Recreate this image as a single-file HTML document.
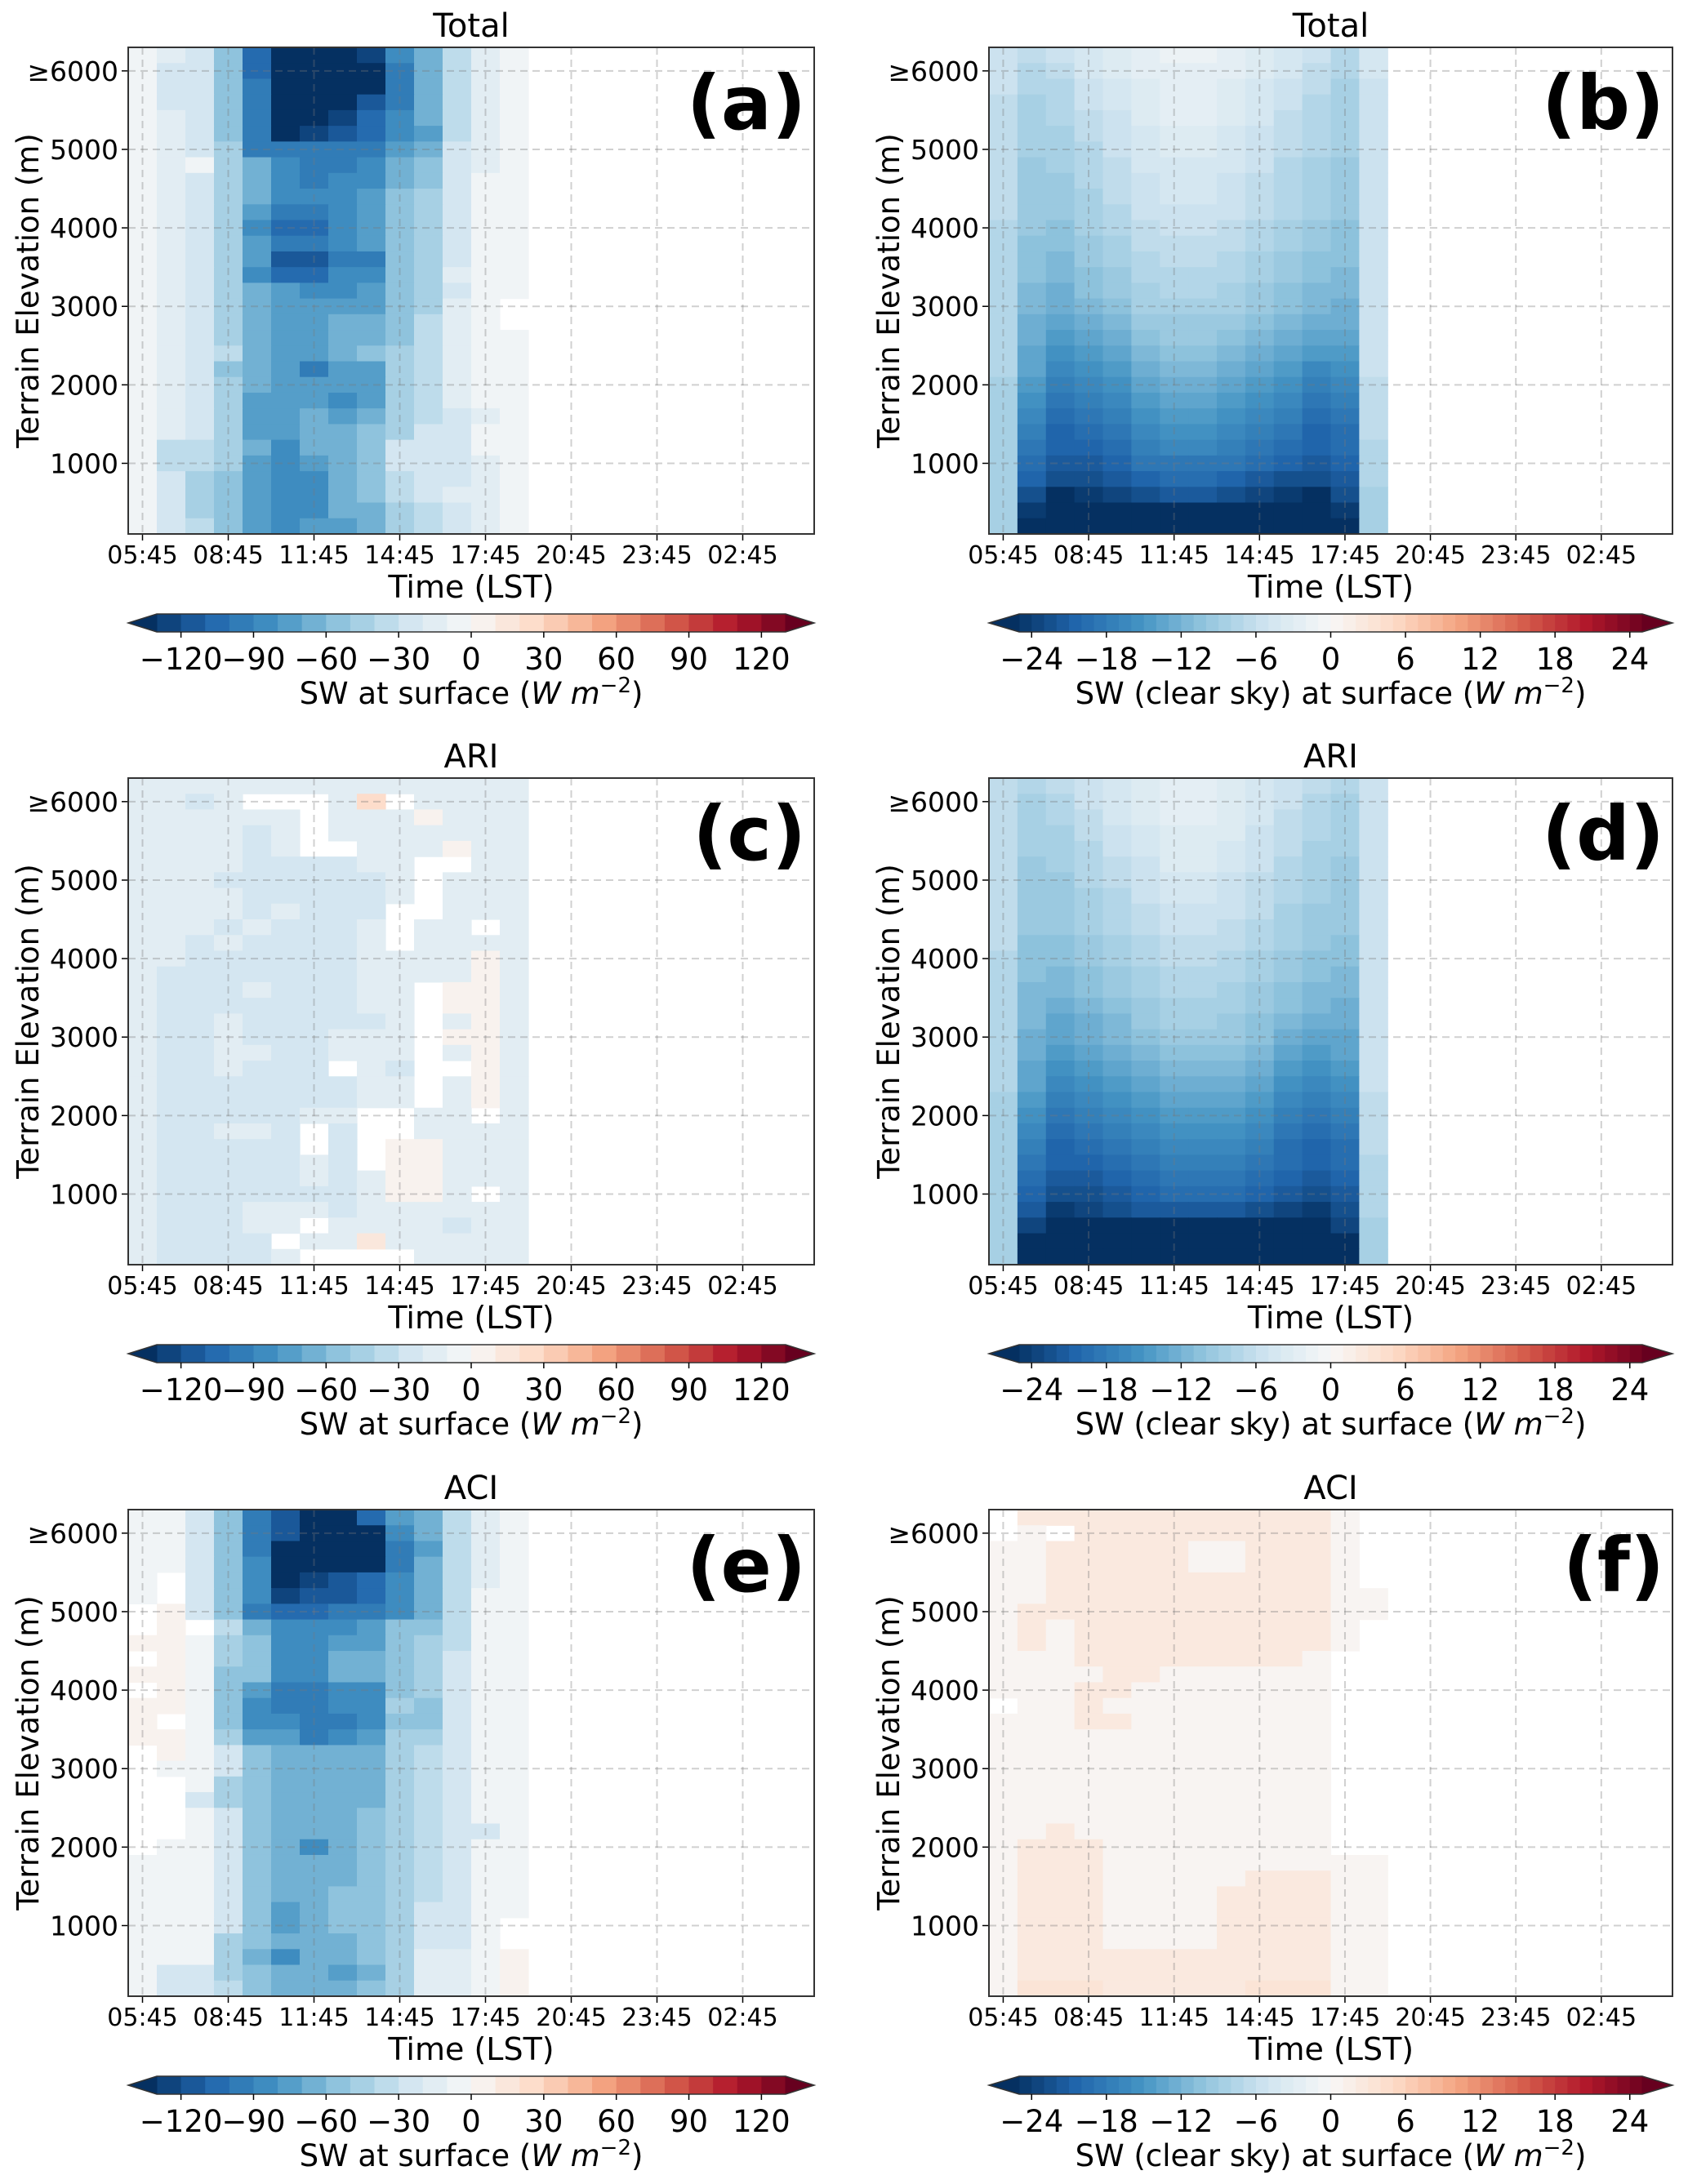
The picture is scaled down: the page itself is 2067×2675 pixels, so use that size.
<!DOCTYPE html>
<html><head><meta charset="utf-8"><style>
html,body{margin:0;padding:0;background:#fff;}
svg{display:block;}
text{font-family:"DejaVu Sans","Liberation Sans",sans-serif;fill:#000;}
</style></head><body>
<svg id="fig" xmlns="http://www.w3.org/2000/svg" width="2067" height="2675" viewBox="0 0 2067 2675"></svg>
<script>
// ---- data ----
const timeTickLabels = ["05:45","08:45","11:45","14:45","17:45","20:45","23:45","02:45"];
const elevTickValues = [1000,2000,3000,4000,5000,6000];
const elevTickLabels = ["1000","2000","3000","4000","5000","\u22656000"];
const swTicks = [-120,-90,-60,-30,0,30,60,90,120];
const csTicks = [-24,-18,-12,-6,0,6,12,18,24];
const N_HOURS = 24;
const ELEV_MIN = 100, ELEV_MAX = 6300, ELEV_STEP = 200;
// rows listed top (6100-6300 m) to bottom (100-300 m); 14 hourly columns from 05:45 to 18:45; null = no data
const valsA = [
[-8,-20,-30,-60,-110,-135,-135,-135,-125,-85,-65,-35,-12,-6],
[-8,-25,-30,-60,-105,-135,-135,-135,-135,-95,-70,-35,-12,-6],
[-8,-25,-30,-60,-100,-135,-135,-135,-135,-100,-70,-40,-12,-6],
[-8,-25,-30,-60,-100,-135,-135,-135,-120,-95,-70,-35,-12,-6],
[-8,-12,-30,-60,-100,-135,-135,-125,-110,-85,-70,-35,-12,-6],
[-8,-12,-30,-60,-100,-135,-130,-120,-110,-85,-75,-35,-12,-6],
[-8,-12,-25,-50,-95,-100,-100,-100,-95,-75,-70,-30,-12,-6],
[-8,-12,-10,-45,-70,-85,-100,-100,-90,-65,-55,-30,-12,-6],
[-8,-12,-25,-45,-70,-85,-100,-85,-85,-65,-55,-30,-8,-6],
[-8,-12,-25,-45,-70,-85,-85,-85,-75,-60,-50,-25,-8,-6],
[-8,-12,-25,-45,-80,-95,-95,-85,-75,-60,-50,-25,-8,-6],
[-8,-12,-25,-45,-90,-110,-110,-85,-75,-60,-50,-25,-8,-6],
[-8,-12,-25,-45,-80,-100,-100,-85,-75,-60,-50,-25,-8,-6],
[-8,-12,-25,-45,-80,-115,-115,-100,-100,-60,-50,-25,-8,-6],
[-8,-12,-25,-45,-85,-105,-105,-90,-90,-60,-50,-20,-8,-6],
[-8,-12,-25,-45,-70,-75,-85,-85,-80,-60,-45,-22,-8,-6],
[-8,-12,-25,-45,-70,-80,-80,-80,-80,-55,-45,-20,-8,null],
[-8,-20,-25,-45,-70,-80,-80,-65,-65,-55,-40,-20,-8,null],
[-8,-20,-30,-45,-70,-80,-80,-65,-65,-55,-40,-20,-8,-6],
[-8,-20,-30,-40,-70,-80,-80,-70,-60,-50,-40,-20,-8,-6],
[-8,-20,-30,-55,-70,-80,-95,-80,-75,-50,-40,-20,-8,-6],
[-8,-20,-30,-45,-70,-80,-80,-80,-75,-50,-35,-20,-8,-6],
[-8,-20,-30,-45,-75,-80,-80,-85,-75,-45,-35,-20,-8,-6],
[-8,-20,-30,-45,-75,-80,-65,-80,-65,-50,-35,-25,-15,-6],
[-8,-20,-30,-45,-75,-80,-65,-65,-55,-45,-30,-25,-8,-6],
[-8,-35,-40,-50,-65,-85,-70,-65,-60,-30,-30,-25,-8,-6],
[-8,-35,-40,-50,-75,-85,-75,-65,-55,-30,-30,-25,-15,-6],
[-8,-30,-50,-55,-75,-85,-85,-70,-60,-40,-30,-22,-15,-6],
[-8,-30,-50,-60,-75,-85,-85,-70,-60,-40,-30,-20,-15,-6],
[-8,-30,-50,-60,-75,-85,-85,-70,-65,-45,-35,-25,-15,-6],
[-8,-30,-35,-60,-75,-85,-75,-75,-65,-45,-35,-22,-15,-6]];
const valsB = [
[-6,-7,-6,-5,-4,-3,-2,-2,-3,-4,-5,-6,-8,-5],
[-6,-8,-7,-5,-4,-3,-3,-3,-3,-4,-5,-7,-8,-5],
[-6,-8,-8,-6,-5,-4,-3,-3,-4,-5,-6,-7,-9,-6],
[-7,-9,-8,-6,-5,-4,-3,-3,-4,-5,-6,-8,-9,-6],
[-7,-9,-8,-7,-6,-4,-3,-3,-4,-5,-7,-8,-9,-6],
[-7,-9,-9,-7,-6,-5,-4,-4,-5,-6,-7,-8,-9,-6],
[-7,-9,-9,-8,-6,-5,-4,-4,-5,-6,-7,-8,-9,-6],
[-7,-10,-9,-8,-7,-5,-5,-5,-5,-6,-8,-9,-10,-6],
[-7,-10,-10,-8,-7,-6,-5,-5,-6,-7,-8,-9,-10,-6],
[-7,-10,-10,-9,-7,-6,-5,-5,-6,-7,-8,-9,-10,-6],
[-7,-10,-10,-9,-8,-6,-6,-6,-6,-7,-8,-9,-10,-6],
[-8,-10,-11,-9,-8,-7,-6,-6,-7,-8,-9,-10,-11,-6],
[-8,-11,-11,-10,-9,-7,-7,-7,-7,-8,-9,-10,-11,-6],
[-8,-11,-12,-10,-9,-8,-7,-7,-8,-9,-10,-11,-11,-6],
[-8,-11,-12,-11,-10,-8,-8,-8,-8,-9,-10,-11,-12,-6],
[-8,-12,-13,-11,-10,-9,-8,-8,-9,-10,-11,-12,-12,-6],
[-8,-12,-13,-12,-11,-9,-9,-9,-9,-10,-11,-12,-13,-6],
[-8,-13,-14,-13,-12,-10,-10,-10,-10,-11,-12,-13,-13,-6],
[-8,-13,-15,-14,-13,-11,-10,-10,-11,-12,-13,-14,-14,-6],
[-8,-14,-16,-15,-14,-12,-11,-11,-12,-13,-14,-15,-15,-6],
[-8,-14,-17,-16,-15,-13,-12,-12,-13,-14,-15,-17,-16,-6],
[-9,-15,-18,-17,-16,-14,-13,-13,-14,-15,-16,-18,-17,-7],
[-9,-16,-19,-18,-17,-15,-14,-14,-15,-16,-17,-19,-18,-7],
[-9,-17,-20,-19,-18,-16,-15,-15,-16,-17,-18,-20,-19,-7],
[-9,-18,-21,-20,-19,-17,-16,-16,-17,-18,-19,-21,-20,-7],
[-9,-19,-21,-21,-20,-18,-17,-17,-18,-19,-20,-21,-20,-8],
[-9,-20,-22,-22,-21,-19,-19,-19,-19,-20,-21,-22,-21,-8],
[-9,-21,-23,-23,-22,-21,-20,-20,-21,-22,-23,-23,-22,-8],
[-9,-23,-26,-25,-24,-23,-22,-22,-23,-24,-25,-26,-23,-9],
[-9,-25,-28,-28,-28,-28,-28,-28,-28,-28,-28,-28,-25,-9],
[-9,-28,-28,-28,-28,-28,-28,-28,-28,-28,-28,-28,-28,-9]];
const valsC = [
[-12,-12,-12,-12,-12,-12,-12,-12,-12,-12,-12,-12,-12,-12],
[-12,-12,-25,-12,null,null,null,-12,20,null,-12,-12,-12,-12],
[-12,-12,-12,-12,-12,-12,null,-12,-12,-12,5,-12,-12,-12],
[-12,-12,-12,-12,-25,-12,null,-12,-12,-12,-12,-12,-12,-12],
[-12,-12,-12,-12,-25,-12,null,null,-12,-12,-12,5,-12,-12],
[-12,-12,-12,-12,-25,-25,-25,-25,-12,-12,null,null,-12,-12],
[-12,-12,-12,-25,-25,-25,-25,-25,-25,-12,null,-12,-12,-12],
[-12,-12,-12,-12,-25,-25,-25,-25,-25,-12,null,-12,-12,-12],
[-12,-12,-12,-12,-25,-12,-25,-25,-25,null,null,-12,-12,-12],
[-12,-12,-12,-25,-12,-25,-25,-25,-12,null,-12,-12,null,-12],
[-12,-12,-25,-12,-25,-25,-25,-25,-12,null,-12,-12,-12,-12],
[-12,-12,-25,-25,-25,-25,-25,-25,-12,-12,-12,-12,5,-12],
[-12,-25,-25,-25,-25,-25,-25,-25,-12,-12,-12,-12,5,-12],
[-12,-25,-25,-25,-12,-25,-25,-25,-12,-12,null,5,5,-12],
[-12,-25,-25,-25,-25,-25,-25,-25,-12,-12,null,5,5,-12],
[-12,-25,-25,-12,-25,-25,-25,-25,-25,-12,null,-12,5,-12],
[-12,-25,-25,-12,-25,-25,-25,-12,-12,-12,null,5,5,-12],
[-12,-25,-25,-12,-12,-25,-25,-12,-12,-12,null,-12,5,-12],
[-12,-25,-25,-12,-25,-25,-25,null,-12,-25,null,null,5,-12],
[-12,-25,-25,-25,-25,-25,-25,-25,-12,-12,null,-12,5,-12],
[-12,-25,-25,-25,-25,-25,-25,-25,-12,-12,null,-12,5,-12],
[-12,-25,-25,-25,-25,-25,-12,-12,null,null,-12,-12,null,-12],
[-12,-25,-25,-12,-12,-25,null,-25,null,null,-12,-12,-12,-12],
[-12,-25,-25,-25,-25,-25,null,-25,null,5,5,-12,-12,-12],
[-12,-25,-25,-25,-25,-25,-12,-25,null,5,5,-12,-12,-12],
[-12,-25,-25,-25,-25,-25,-12,-25,-12,5,5,-12,-12,-12],
[-12,-25,-25,-25,-25,-25,-25,-25,-12,5,5,-12,null,-12],
[-12,-25,-25,-25,-12,-12,-12,-25,-12,-12,-12,-12,-12,-12],
[-12,-25,-25,-25,-12,-12,null,-12,-12,-12,-12,-25,-12,-12],
[-12,-25,-25,-25,-25,null,-12,-12,15,-12,-12,-12,-12,-12],
[-12,-25,-25,-25,-25,-12,null,null,null,null,-12,-12,-12,-12]];
const valsD = [
[-7,-8,-7,-6,-5,-4,-3,-3,-4,-5,-6,-7,-8,-6],
[-7,-9,-8,-6,-5,-4,-3,-3,-4,-5,-6,-8,-9,-6],
[-7,-9,-8,-7,-5,-4,-3,-3,-4,-5,-7,-8,-9,-6],
[-7,-9,-9,-7,-6,-5,-4,-4,-4,-6,-7,-8,-9,-6],
[-7,-9,-9,-8,-6,-5,-4,-4,-5,-6,-7,-9,-9,-6],
[-7,-10,-9,-8,-7,-6,-4,-4,-5,-6,-8,-9,-10,-6],
[-7,-10,-10,-8,-7,-6,-5,-5,-6,-7,-8,-9,-10,-6],
[-7,-10,-10,-9,-8,-6,-5,-5,-6,-7,-8,-9,-10,-6],
[-7,-10,-10,-9,-8,-7,-6,-6,-6,-7,-9,-10,-10,-6],
[-7,-10,-10,-9,-8,-7,-6,-6,-7,-8,-9,-10,-10,-6],
[-7,-11,-11,-10,-9,-8,-7,-7,-7,-8,-9,-10,-11,-6],
[-8,-11,-11,-10,-9,-8,-7,-7,-8,-9,-10,-11,-11,-6],
[-8,-11,-12,-11,-10,-9,-8,-8,-8,-9,-10,-11,-12,-6],
[-8,-12,-12,-11,-10,-9,-8,-8,-9,-10,-11,-12,-12,-6],
[-8,-12,-13,-12,-11,-10,-9,-9,-9,-10,-11,-12,-13,-6],
[-8,-12,-14,-13,-12,-10,-9,-9,-10,-11,-12,-13,-13,-6],
[-8,-13,-14,-13,-12,-11,-10,-10,-10,-11,-13,-14,-14,-6],
[-8,-13,-15,-14,-13,-12,-11,-11,-11,-12,-14,-15,-14,-6],
[-8,-14,-16,-15,-14,-13,-12,-12,-12,-13,-15,-16,-15,-6],
[-8,-14,-17,-16,-15,-14,-13,-13,-13,-14,-16,-17,-16,-6],
[-9,-15,-18,-17,-16,-15,-14,-14,-14,-15,-17,-18,-17,-7],
[-9,-16,-19,-18,-17,-16,-15,-15,-15,-16,-18,-19,-18,-7],
[-9,-17,-20,-19,-18,-17,-16,-16,-16,-17,-19,-20,-19,-7],
[-9,-18,-21,-20,-19,-18,-17,-17,-17,-18,-20,-21,-20,-7],
[-9,-19,-21,-21,-20,-19,-18,-18,-18,-19,-20,-21,-20,-8],
[-9,-20,-22,-22,-21,-20,-19,-19,-19,-20,-21,-22,-21,-8],
[-9,-21,-23,-23,-22,-21,-20,-20,-20,-21,-22,-23,-22,-8],
[-9,-22,-25,-24,-23,-22,-22,-22,-22,-23,-24,-25,-23,-8],
[-9,-24,-27,-27,-26,-26,-26,-26,-26,-26,-26,-27,-24,-9],
[-9,-28,-28,-28,-28,-28,-28,-28,-28,-28,-28,-28,-28,-9],
[-9,-28,-28,-28,-28,-28,-28,-28,-28,-28,-28,-28,-28,-9]];
const valsE = [
[-8,-8,-25,-55,-95,-115,-135,-135,-105,-75,-65,-40,-12,-6],
[-8,-8,-25,-55,-100,-115,-135,-135,-135,-90,-65,-40,-12,-6],
[-8,-8,-25,-55,-100,-135,-135,-135,-135,-100,-75,-40,-12,-6],
[-8,-8,-25,-55,-85,-135,-135,-135,-135,-95,-70,-40,-12,-6],
[-8,null,-25,-55,-85,-135,-125,-115,-110,-85,-70,-40,-12,-6],
[-8,null,-25,-55,-85,-130,-115,-115,-105,-85,-70,-40,-8,-6],
[null,5,-25,-55,-95,-105,-105,-100,-100,-85,-65,-40,-8,-6],
[null,5,null,-40,-70,-85,-90,-90,-75,-60,-60,-40,-8,-6],
[5,5,-8,-45,-55,-85,-85,-80,-80,-60,-50,-40,-8,-6],
[null,5,-8,-45,-55,-85,-85,-70,-70,-60,-50,-30,-8,-6],
[5,5,-8,-55,-55,-85,-85,-70,-70,-55,-45,-30,-8,-6],
[null,5,-8,-55,-75,-95,-95,-90,-90,-55,-45,-30,-8,-6],
[5,5,-8,-55,-85,-95,-100,-90,-85,-50,-55,-30,-8,-6],
[5,null,-8,-55,-85,-90,-100,-95,-85,-55,-55,-30,-8,-6],
[5,5,-8,-45,-75,-75,-100,-85,-75,-50,-45,-30,-8,-6],
[null,5,-8,-30,-60,-70,-70,-70,-65,-50,-35,-30,-8,-6],
[null,-8,-8,-30,-60,-70,-70,-70,-65,-50,-35,-30,-8,-6],
[null,null,-8,-45,-60,-70,-70,-70,-65,-50,-35,-30,-8,-6],
[null,null,-25,-45,-60,-70,-70,-70,-65,-50,-35,-30,-8,-6],
[null,null,-8,-30,-60,-70,-70,-70,-55,-50,-40,-30,-8,-6],
[null,null,-8,-30,-60,-70,-70,-70,-55,-50,-40,-30,-25,-6],
[null,-8,-8,-30,-60,-70,-85,-70,-55,-50,-40,-30,-8,-6],
[-8,-8,-8,-30,-60,-70,-70,-70,-55,-50,-40,-25,-8,-6],
[-8,-8,-8,-30,-60,-70,-65,-70,-55,-50,-40,-25,-8,-6],
[-8,-8,-8,-30,-60,-65,-65,-60,-55,-50,-40,-30,-8,-6],
[-8,-8,-8,-30,-60,-75,-65,-55,-55,-45,-25,-25,-8,-6],
[-8,-8,-8,-30,-60,-75,-65,-55,-55,-45,-25,-25,-8,null],
[-8,-8,-8,-45,-60,-70,-70,-65,-60,-45,-25,-25,-8,null],
[-8,-8,-8,-45,-65,-85,-70,-65,-60,-45,-15,-15,-8,5],
[-8,-25,-25,-45,-60,-70,-70,-75,-65,-45,-15,-15,-8,5],
[-8,-25,-25,-40,-55,-70,-70,-70,-60,-45,-15,-15,-8,5]];
const valsF = [
[null,2,2,2,2,2,2,2,2,2,2,2,0.5,null],
[null,0.5,null,2,2,2,2,2,2,2,2,2,0.5,null],
[0.5,0.5,2,2,2,2,2,0.5,0.5,2,2,2,0.5,null],
[0.5,0.5,2,2,2,2,2,0.5,0.5,2,2,2,0.5,null],
[0.5,0.5,2,2,2,2,2,2,2,2,2,2,0.5,null],
[0.5,0.5,2,2,2,2,2,2,2,2,2,2,0.5,0.5],
[0.5,2,2,2,2,2,2,2,2,2,2,2,0.5,0.5],
[0.5,2,0.5,2,2,2,2,2,2,2,2,2,0.5,null],
[0.5,2,0.5,2,2,2,2,2,2,2,2,2,0.5,null],
[0.5,0.5,0.5,2,2,2,2,2,2,2,2,0.5,null,null],
[0.5,0.5,0.5,0.5,2,2,0.5,0.5,0.5,0.5,0.5,0.5,null,null],
[0.5,0.5,0.5,2,2,0.5,0.5,0.5,0.5,0.5,0.5,0.5,null,null],
[null,0.5,0.5,2,0.5,0.5,0.5,0.5,0.5,0.5,0.5,0.5,null,null],
[0.5,0.5,0.5,2,2,0.5,0.5,0.5,0.5,0.5,0.5,0.5,null,null],
[0.5,0.5,0.5,0.5,0.5,0.5,0.5,0.5,0.5,0.5,0.5,0.5,null,null],
[0.5,0.5,0.5,0.5,0.5,0.5,0.5,0.5,0.5,0.5,0.5,0.5,null,null],
[0.5,0.5,0.5,0.5,0.5,0.5,0.5,0.5,0.5,0.5,0.5,0.5,null,null],
[0.5,0.5,0.5,0.5,0.5,0.5,0.5,0.5,0.5,0.5,0.5,0.5,null,null],
[0.5,0.5,0.5,0.5,0.5,0.5,0.5,0.5,0.5,0.5,0.5,0.5,null,null],
[0.5,0.5,0.5,0.5,0.5,0.5,0.5,0.5,0.5,0.5,0.5,0.5,null,null],
[0.5,0.5,2,0.5,0.5,0.5,0.5,0.5,0.5,0.5,0.5,0.5,null,null],
[0.5,2,2,2,0.5,0.5,0.5,0.5,0.5,0.5,0.5,0.5,null,null],
[0.5,2,2,2,0.5,0.5,0.5,0.5,0.5,0.5,0.5,0.5,0.5,0.5],
[0.5,2,2,2,0.5,0.5,0.5,0.5,0.5,2,2,2,0.5,0.5],
[0.5,2,2,2,0.5,0.5,0.5,0.5,2,2,2,2,0.5,0.5],
[0.5,2,2,2,0.5,0.5,0.5,0.5,2,2,2,2,0.5,0.5],
[0.5,2,2,2,0.5,0.5,0.5,0.5,2,2,2,2,0.5,0.5],
[0.5,2,2,2,0.5,0.5,0.5,0.5,2,2,2,2,0.5,0.5],
[0.5,2,2,2,2,2,2,2,2,2,2,2,0.5,0.5],
[0.5,2,2,2,2,2,2,2,2,2,2,2,0.5,0.5],
[0.5,3,3,3,2,2,2,2,2,3,3,3,0.5,0.5]];

// ---- drawing ----
const NS = "http://www.w3.org/2000/svg";
const svg = document.getElementById('fig');
const stops = ["#053061","#2166ac","#4393c3","#92c5de","#d1e5f0","#f7f7f7","#fddbc7","#f4a582","#d6604d","#b2182b","#67001f"];
function hex(h){return [1,3,5].map(i=>parseInt(h.substr(i,2),16));}
function cmap(t){
  t=Math.max(0,Math.min(1,t)); const p=t*10; const i=Math.min(9,Math.floor(p)); const f=p-i;
  const a=hex(stops[i]), b=hex(stops[i+1]);
  return 'rgb('+a.map((v,k)=>Math.round(v+(b[k]-v)*f)).join(',')+')';
}
function mk(tag, attrs, parent){
  const e=document.createElementNS(NS,tag);
  for(const k in attrs) e.setAttribute(k,attrs[k]);
  (parent||svg).appendChild(e); return e;
}
const scales = {
  sw:{lo:-130,hi:130,step:10,ticks:swTicks,label:"SW at surface ",tri:35},
  cs:{lo:-25,hi:25,step:1,ticks:csTicks,label:"SW (clear sky) at surface ",tri:37}
};
function colorIdx(v,s){
  const n=Math.round((s.hi-s.lo)/s.step);
  let idx; if(v<s.lo) idx=0; else if(v>=s.hi) idx=n+1; else idx=1+Math.floor((v-s.lo)/s.step);
  return cmap(idx/(n+1));
}
const panels = [
  {id:'a',title:'Total',vals:valsA,L:157,W:840,T:58,sc:'sw'},
  {id:'b',title:'Total',vals:valsB,L:1211,W:837,T:58,sc:'cs'},
  {id:'c',title:'ARI',vals:valsC,L:157,W:840,T:953,sc:'sw'},
  {id:'d',title:'ARI',vals:valsD,L:1211,W:837,T:953,sc:'cs'},
  {id:'e',title:'ACI',vals:valsE,L:157,W:840,T:1849,sc:'sw'},
  {id:'f',title:'ACI',vals:valsF,L:1211,W:837,T:1849,sc:'cs'}
];
const H = 596;
panels.forEach(p=>{
  const s=scales[p.sc];
  const g=mk('g',{});
  
  
  const xS = h => p.L + h*p.W/N_HOURS;
  const yS = e => p.T + H - (e-ELEV_MIN)/(ELEV_MAX-ELEV_MIN)*H;
  p.vals.forEach((row,r)=>{
    const eTop = ELEV_MAX - r*ELEV_STEP;
    row.forEach((v,c)=>{
      if(v===null) return;
      const x0=xS(c), x1=xS(c+1), y0=yS(eTop), y1=yS(eTop-ELEV_STEP);
      const rc=mk('rect',{x:x0,y:y0,width:x1-x0+0.6,height:y1-y0+0.6,fill:colorIdx(v,s)},g);
      
      
    });
  });
  timeTickLabels.forEach((lab,i)=>{
    const x=xS(3*i+0.5);
    const ln=mk('line',{x1:x,x2:x,y1:p.T,y2:p.T+H,stroke:'rgba(120,120,120,0.35)','stroke-width':2,'stroke-dasharray':'9,6'},g);
    
    
    mk('line',{x1:x,x2:x,y1:p.T+H,y2:p.T+H+8,stroke:'#000','stroke-width':1.5},g);
    const t=mk('text',{x:x,y:p.T+H+36,'font-size':30,'text-anchor':'middle'},g);
    t.textContent=lab;
    
    
  });
  elevTickValues.forEach((e,i)=>{
    const y=yS(e);
    const ln=mk('line',{x1:p.L,x2:p.L+p.W,y1:y,y2:y,stroke:'rgba(120,120,120,0.35)','stroke-width':2,'stroke-dasharray':'9,6'},g);
    
    
    mk('line',{x1:p.L-8,x2:p.L,y1:y,y2:y,stroke:'#000','stroke-width':1.5},g);
    const t=mk('text',{x:p.L-12,y:y+12,'font-size':33,'text-anchor':'end'},g);
    t.textContent=elevTickLabels[i];
    
    
  });
  const fr=mk('rect',{x:p.L,y:p.T,width:p.W,height:H,fill:'none',stroke:'#333','stroke-width':2},g);
  
  
  const ti=mk('text',{x:p.L+p.W/2,y:p.T-13,'font-size':40,'text-anchor':'middle'},g);
  ti.textContent=p.title;
  
  
  const pl=mk('text',{x:p.L+p.W-10,y:p.T+100,'font-size':92,'font-weight':'bold','text-anchor':'end','font-family':'Liberation Sans Narrow, Liberation Sans, sans-serif'},g);
  pl.textContent='('+p.id+')';
  
  
  const xl=mk('text',{x:p.L+p.W/2,y:p.T+H+78,'font-size':38,'text-anchor':'middle'},g);
  xl.textContent='Time (LST)';
  
  
  const yl=mk('text',{x:0,y:0,'font-size':37,'text-anchor':'middle',transform:'translate('+(p.L-110)+','+(p.T+H/2)+') rotate(-90)'},g);
  yl.textContent='Terrain Elevation (m)';
  
  
  const cbY=p.T+H+98, cbH=22;
  const bx0=p.L+s.tri, bx1=p.L+p.W-s.tri;
  const vx = v => bx0 + (v-s.lo)/(s.hi-s.lo)*(bx1-bx0);
  const cg=mk('g',{},g);
  
  
  const n=Math.round((s.hi-s.lo)/s.step);
  for(let k=0;k<n;k++){
    const v=s.lo+k*s.step;
    mk('rect',{x:vx(v),y:cbY,width:vx(v+s.step)-vx(v)+0.6,height:cbH,fill:colorIdx(v+s.step/2,s)},cg);
  }
  mk('polygon',{points:`${p.L},${cbY+cbH/2} ${bx0+0.5},${cbY} ${bx0+0.5},${cbY+cbH}`,fill:colorIdx(s.lo-1,s)},cg);
  mk('polygon',{points:`${p.L+p.W},${cbY+cbH/2} ${bx1-0.5},${cbY} ${bx1-0.5},${cbY+cbH}`,fill:colorIdx(s.hi+1,s)},cg);
  mk('polygon',{points:`${p.L},${cbY+cbH/2} ${bx0},${cbY} ${bx1},${cbY} ${p.L+p.W},${cbY+cbH/2} ${bx1},${cbY+cbH} ${bx0},${cbY+cbH}`,fill:'none',stroke:'#333','stroke-width':1.5},cg);
  s.ticks.forEach(v=>{
    const x=vx(v);
    mk('line',{x1:x,x2:x,y1:cbY+cbH,y2:cbY+cbH+7,stroke:'#000','stroke-width':1.5},cg);
    const t=mk('text',{x:x,y:cbY+cbH+46,'font-size':37,'text-anchor':'middle'},cg);
    t.textContent=(v<0?'\u2212'+(-v):String(v));
    
    
  });
  const cl=mk('text',{x:p.L+p.W/2,y:cbY+cbH+88,'font-size':37,'text-anchor':'middle'},cg);
  
  
  cl.appendChild(document.createTextNode(s.label+'('));
  const t1=mk('tspan',{'font-style':'italic'},cl); t1.textContent='W m';
  const t2=mk('tspan',{dy:-14,'font-size':26},cl); t2.textContent='\u22122';
  const t3=mk('tspan',{dy:14},cl); t3.textContent=')';
});
</script>
</body></html>
